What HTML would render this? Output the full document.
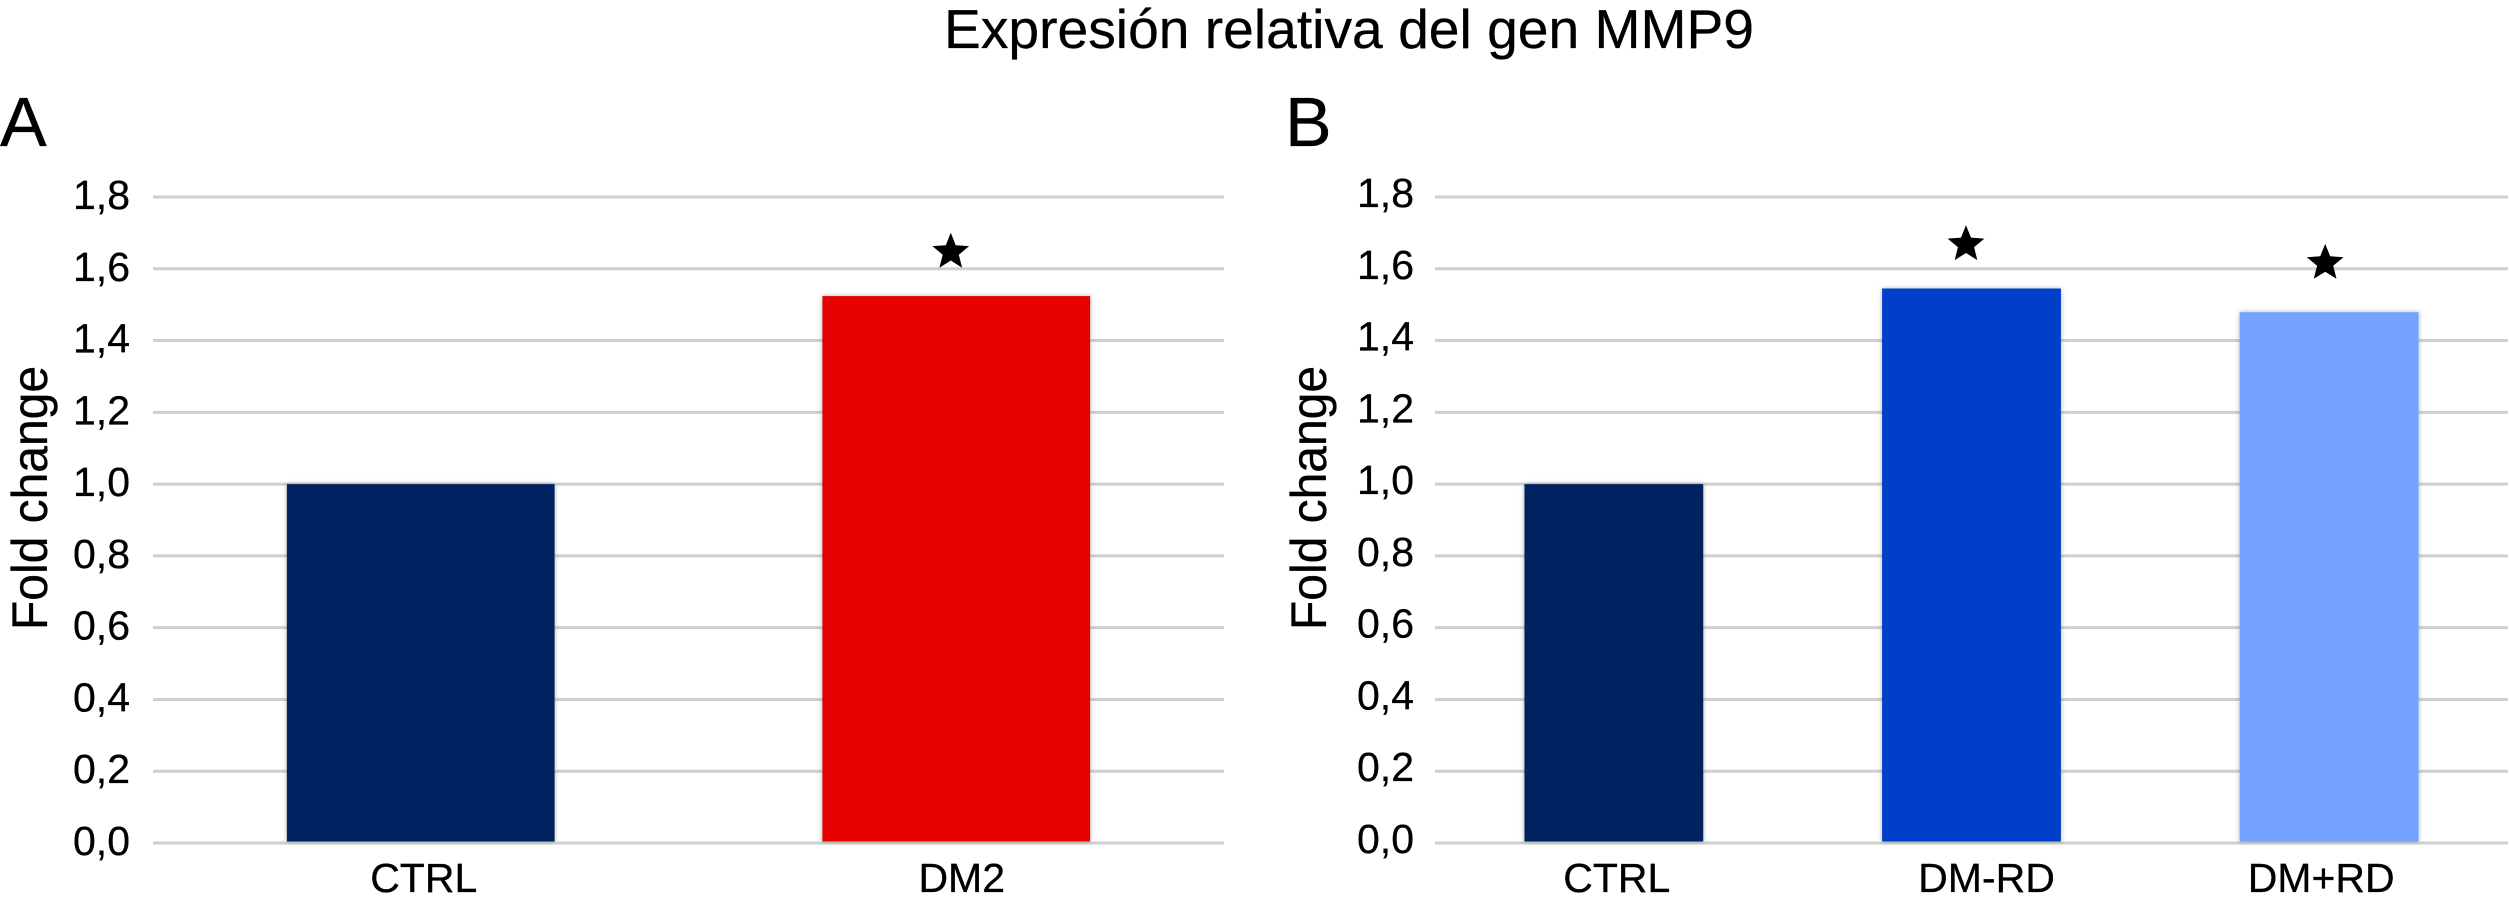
<!DOCTYPE html>
<html lang="es">
<head>
<meta charset="utf-8">
<title>Expresión relativa del gen MMP9</title>
<style>
  html, body { margin: 0; padding: 0; background: #fff; }
  svg { display: block; }
  text { font-family: "Liberation Sans", Arial, sans-serif; fill: #000; stroke: #000; stroke-width: 0.3px; }
</style>
</head>
<body>
<svg id="figure" xmlns="http://www.w3.org/2000/svg" width="2509" height="901" viewBox="0 0 2509 901">
  <defs>
    <filter id="barShadow" x="-5%" y="-5%" width="110%" height="110%">
      <feDropShadow dx="0" dy="0" stdDeviation="2.5" flood-color="#6f7a7a" flood-opacity="0.6"/>
    </filter>
  </defs>
  <rect x="0" y="0" width="2509" height="901" fill="#ffffff"/>
  <text x="1349" y="48" font-size="55" text-anchor="middle" textLength="810" lengthAdjust="spacingAndGlyphs">Expresión relativa del gen MMP9</text>
  <text x="0" y="146" font-size="70">A</text>
  <text x="1285" y="146" font-size="70">B</text>
  <text transform="translate(47,630) rotate(-90)" font-size="50" textLength="264" lengthAdjust="spacingAndGlyphs">Fold change</text>
  <text transform="translate(1326,630) rotate(-90)" font-size="50" textLength="264" lengthAdjust="spacingAndGlyphs">Fold change</text>
  <g id="panelA"></g>
  <g id="panelB"></g>
</svg>
<script>
const tickValues = [0, 0.2, 0.4, 0.6, 0.8, 1.0, 1.2, 1.4, 1.6, 1.8];
const tickLabels = ["0,0", "0,2", "0,4", "0,6", "0,8", "1,0", "1,2", "1,4", "1,6", "1,8"];

const categoriesA = ["CTRL", "DM2"];
const valuesA = [1.0, 1.524];
const significantA = [false, true];
const coloursA = ["#012060", "#e60000"];

const categoriesB = ["CTRL", "DM-RD", "DM+RD"];
const valuesB = [1.0, 1.545, 1.479];
const significantB = [false, true, true];
const coloursB = ["#012060", "#0040c8", "#75a2ff"];

const SVG_NS = "http://www.w3.org/2000/svg";

function yScale(v) {
  return 843 - v * (646 / 1.8);
}

function starPoints(cx, cy, R) {
  const r = R * 0.44;
  const pts = [];
  for (let i = 0; i < 10; i++) {
    const a = -Math.PI / 2 + i * Math.PI / 5;
    const rad = i % 2 === 0 ? R : r;
    pts.push((cx + rad * Math.cos(a)).toFixed(1) + "," + (cy + rad * Math.sin(a)).toFixed(1));
  }
  return pts.join(" ");
}

function drawPanel(group, cfg, categories, values, significant, colours) {
  const band = (cfg.x1 - cfg.x0) / categories.length;
  const xCenter = i => cfg.x0 + (i + 0.5) * band;

  tickValues.forEach((t, i) => {
    const line = document.createElementNS(SVG_NS, "line");
    line.setAttribute("x1", cfg.x0);
    line.setAttribute("x2", cfg.x1);
    line.setAttribute("y1", yScale(t));
    line.setAttribute("y2", yScale(t));
    line.setAttribute("stroke", "#cfcfcf");
    line.setAttribute("stroke-width", "3");
    
    
    group.appendChild(line);

    const label = document.createElementNS(SVG_NS, "text");
    label.setAttribute("x", cfg.tickRight);
    label.setAttribute("y", yScale(t) + cfg.tickDy);
    label.setAttribute("font-size", "41");
    label.setAttribute("text-anchor", "end");
    label.textContent = tickLabels[i];
    
    
    group.appendChild(label);
  });

  categories.forEach((c, i) => {
    const w = band * 0.5;
    const top = yScale(values[i]);
    const bar = document.createElementNS(SVG_NS, "rect");
    bar.setAttribute("x", xCenter(i) - w / 2);
    bar.setAttribute("y", top);
    bar.setAttribute("width", w);
    bar.setAttribute("height", yScale(0) - 1.5 - top);
    bar.setAttribute("fill", colours[i]);
    bar.setAttribute("filter", "url(#barShadow)");
    
    
    group.appendChild(bar);

    const label = document.createElementNS(SVG_NS, "text");
    label.setAttribute("x", xCenter(i) + cfg.labelNudge[i]);
    label.setAttribute("y", 892);
    label.setAttribute("font-size", "41");
    label.setAttribute("text-anchor", "middle");
    label.textContent = c;
    
    
    group.appendChild(label);

    if (significant[i]) {
      const star = document.createElementNS(SVG_NS, "polygon");
      star.setAttribute("points", starPoints(xCenter(i) + cfg.starNudge[i], top - cfg.starGap[i], 19.3));
      star.setAttribute("fill", "#000000");
      
      
      group.appendChild(star);
    }
  });
}

drawPanel(document.getElementById("panelA"),
  { x0: 153, x1: 1224, tickRight: 130, tickDy: 12, labelNudge: [3, 5.5], starNudge: [0, -5.5], starGap: [0, 44] },
  categoriesA, valuesA, significantA, coloursA);

drawPanel(document.getElementById("panelB"),
  { x0: 1435, x1: 2508, tickRight: 1414, tickDy: 10, labelNudge: [3, 15, -8], starNudge: [0, -5.5, -4], starGap: [0, 44, 49] },
  categoriesB, valuesB, significantB, coloursB);
</script>
</body>
</html>
